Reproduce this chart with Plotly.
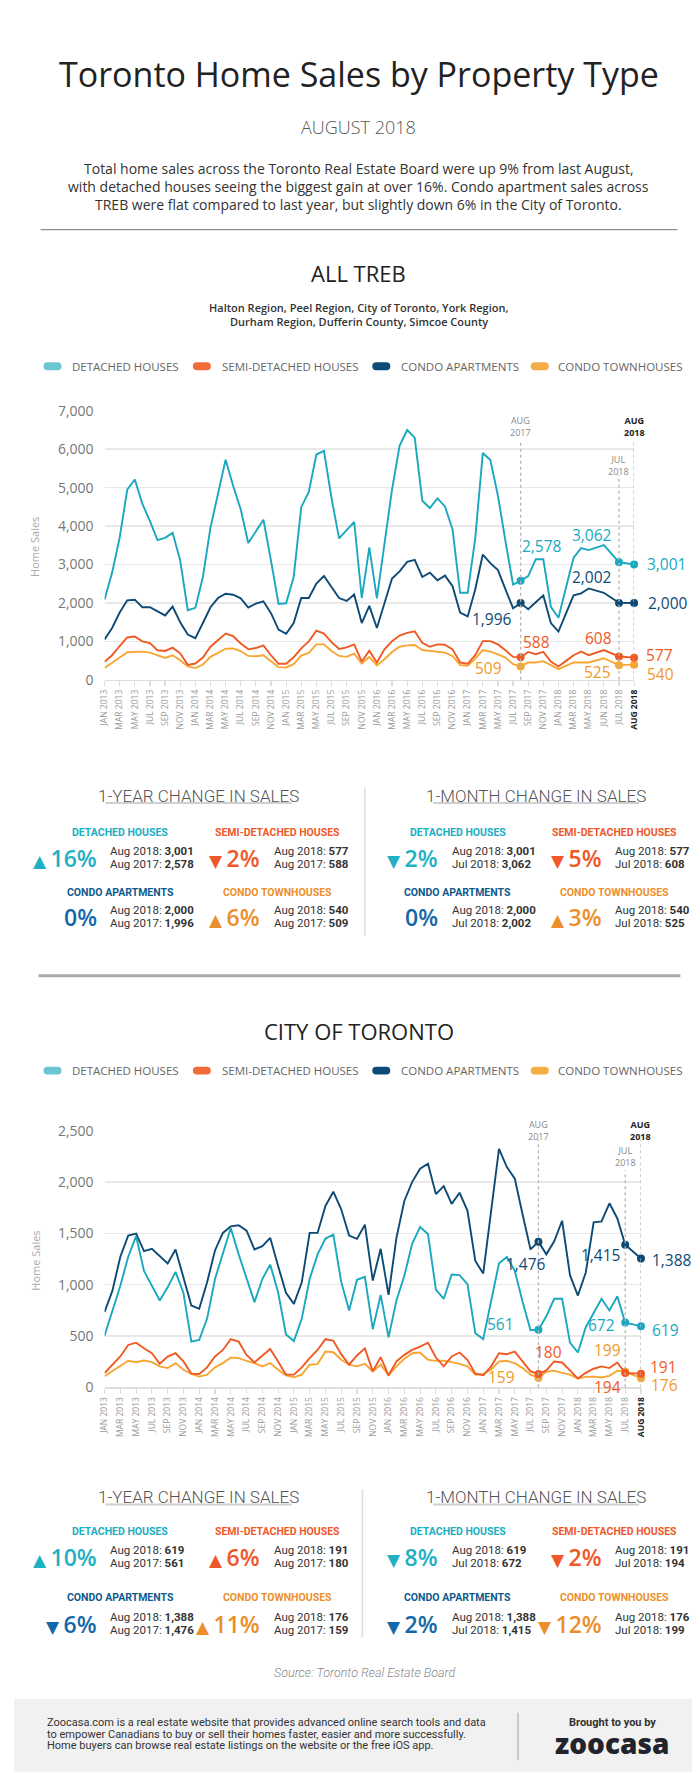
import numpy as np
import pandas as pd
import plotly.graph_objects as go

W, H = 700, 1773
def px(x): return x / W
def py(y): return 1 - y / H

BASE = "Open Sans, Roboto, DejaVu Sans, sans-serif"
NARROW = "Liberation Sans Narrow, Roboto, Open Sans, sans-serif"
ROB = "Roboto, Open Sans, sans-serif"

# ---------------- categories / ticks ----------------
MONTHS = [d.strftime("%b %Y").upper() for d in pd.date_range("2013-01-01", "2018-08-01", freq="MS")]
TREB_TICKS = MONTHS[0:65:2] + ["JUN 2018", "JUL 2018", "AUG 2018"]
CITY_TICKS = MONTHS[0:67:2] + ["AUG 2018"]
HIGHLIGHT = ["AUG 2017", "JUL 2018", "AUG 2018"]
SERIES = ["DETACHED HOUSES", "SEMI-DETACHED HOUSES", "CONDO APARTMENTS", "CONDO TOWNHOUSES"]

# ---------------- ALL TREB series (Jan 2013 - Aug 2018) ----------------
TREB_DETACHED = [2090, 2790, 3700, 4945, 5210, 4577, 4130, 3635, 3695, 3824, 3104, 1812,
                 1872, 2676, 3960, 4816, 5724, 5050, 4430, 3558, 3875, 4166, 3100, 1974,
                 1991, 2676, 4491, 4885, 5861, 5955, 4731, 3678, 3892, 4106, 2128, 3446,
                 2120, 3550, 4950, 6090, 6500, 6300, 4660, 4470, 4720, 4510, 3910, 2265,
                 2265, 3680, 5900, 5720, 4790, 3600, 2480, 2578, 2700, 3137, 3137, 1900,
                 1615, 2400, 3175, 3425, 3375, 3505, 3062, 3001]
TREB_SEMI = [467, 640, 880, 1102, 1128, 1000, 957, 768, 750, 836, 690, 390,
             425, 579, 861, 1024, 1204, 1135, 947, 793, 827, 896, 639, 417,
             417, 588, 820, 1000, 1281, 1204, 981, 802, 844, 921, 476, 759,
             450, 793, 1007, 1152, 1221, 1264, 964, 861, 921, 913, 793, 450,
             417, 640, 1007, 1007, 921, 768, 597, 588, 726, 666, 726, 476,
             348, 493, 640, 734, 640, 776, 608, 577]
TREB_CONDO_APT = [1050, 1350, 1752, 2068, 2085, 1888, 1888, 1786, 1675, 1906, 1495, 1178,
                  1084, 1478, 1888, 2128, 2240, 2214, 2120, 1880, 1983, 2043, 1734, 1307,
                  1196, 1478, 2128, 2128, 2505, 2702, 2420, 2128, 2051, 2222, 1478, 1923,
                  1350, 1990, 2634, 2822, 3070, 3122, 2676, 2788, 2591, 2711, 2437, 1752,
                  1649, 2351, 3259, 3036, 2856, 2351, 1863, 1996, 1837, 2017, 2197, 1478,
                  1255, 1730, 2197, 2248, 2377, 2265, 2002, 2000]
TREB_CONDO_TOWN = [306, 452, 580, 716, 724, 733, 707, 639, 570, 639, 510, 348,
                   306, 399, 597, 700, 810, 818, 750, 622, 613, 639, 476, 330,
                   322, 408, 630, 700, 922, 922, 750, 622, 597, 682, 425, 597,
                   374, 536, 725, 861, 896, 904, 776, 750, 741, 707, 622, 382,
                   365, 553, 776, 733, 664, 579, 408, 348, 452, 452, 485, 390,
                   279, 365, 452, 452, 452, 562, 382, 395]

# ---------------- City of Toronto series ----------------
CITY_DETACHED = [502, 749, 990, 1273, 1473, 1135, 990, 846, 974, 1125, 920, 444,
                 460, 669, 1055, 1312, 1553, 1296, 1055, 830, 1055, 1196, 926, 514,
                 450, 669, 1055, 1296, 1450, 1489, 1029, 749, 1048, 1077, 566, 900,
                 486, 846, 1087, 1402, 1563, 1495, 952, 862, 1100, 1093, 1006, 527,
                 469, 830, 1209, 1270, 1135, 830, 556, 561, 691, 862, 862, 434,
                 338, 585, 730, 862, 748, 887, 630, 595]
CITY_SEMI = [138, 219, 299, 412, 434, 379, 331, 228, 299, 331, 251, 132,
             129, 193, 299, 363, 469, 444, 315, 241, 309, 373, 251, 122,
             122, 193, 283, 363, 469, 453, 322, 219, 309, 379, 154, 293,
             116, 251, 315, 363, 395, 434, 289, 203, 299, 338, 267, 132,
             116, 203, 331, 322, 347, 251, 154, 129, 164, 251, 241, 164,
             84, 140, 180, 203, 186, 241, 138, 132]
CITY_CONDO_APT = [733, 942, 1273, 1479, 1498, 1328, 1350, 1280, 1206, 1344, 1061, 797,
                  765, 1023, 1334, 1505, 1569, 1579, 1527, 1344, 1376, 1457, 1183, 920,
                  813, 1023, 1505, 1505, 1768, 1907, 1736, 1479, 1447, 1585, 1040, 1350,
                  900, 1457, 1817, 2003, 2132, 2180, 1884, 1961, 1788, 1897, 1723, 1232,
                  1109, 1700, 2325, 2148, 2035, 1682, 1344, 1420, 1296, 1424, 1624, 1093,
                  894, 1119, 1608, 1617, 1794, 1646, 1390, 1255]
CITY_CONDO_TOWN = [106, 154, 203, 257, 244, 260, 244, 203, 186, 235, 170, 129,
                   103, 122, 193, 235, 289, 283, 257, 235, 203, 235, 170, 116,
                   96, 122, 219, 225, 347, 341, 267, 219, 203, 228, 154, 219,
                   116, 203, 277, 331, 338, 267, 257, 257, 244, 228, 203, 122,
                   129, 170, 251, 257, 235, 186, 122, 90, 150, 161, 140, 122,
                   85, 100, 103, 95, 110, 161, 150, 88]

# ---------------- change statistics ----------------
TREB_NOW = [3001, 577, 2000, 540]
TREB_YEAR_AGO = [2578, 588, 1996, 509]
TREB_MONTH_AGO = [3062, 608, 2002, 525]
TREB_YEAR_PCT = [16, 2, 0, 6]
TREB_YEAR_DIR = ["up", "down", "flat", "up"]
TREB_MONTH_PCT = [2, 5, 0, 3]
TREB_MONTH_DIR = ["down", "down", "flat", "up"]

CITY_NOW = [619, 191, 1388, 176]
CITY_YEAR_AGO = [561, 180, 1476, 159]
CITY_MONTH_AGO = [672, 194, 1415, 199]
CITY_YEAR_PCT = [10, 6, 6, 11]
CITY_YEAR_DIR = ["up", "up", "down", "up"]
CITY_MONTH_PCT = [8, 2, 2, 12]
CITY_MONTH_DIR = ["down", "down", "down", "down"]

# ---------------- styles ----------------
LINE_COLORS = ["#19A8BF", "#EF5A24", "#0D4A75", "#F8A632"]
LABEL_COLORS = ["#1AA9C0", "#EF5A2A", "#0D4A75", "#EE9A2C"]
PILL_COLORS = ["#6BC6D3", "#F26A3A", "#0D4A75", "#F6AD45"]
HEAD_COLORS = ["#1BAEC3", "#F0582A", "#0F5A8D", "#EC8F2C"]
PCT_COLORS = ["#1FB0C4", "#F0582A", "#1468A8", "#EB8E2C"]
DRAW_ORDER = [3, 1, 2, 0]

fig = go.Figure()
annotations = []
shapes = []

def txt(text, x, y, size, color="#222", family=BASE, xanchor="center", weight=None, yanchor="middle", italic=False, **kw):
    f = dict(family=family, size=size, color=color)
    if weight is not None:
        f["weight"] = weight
    if italic:
        f["style"] = "italic"
    annotations.append(dict(text=text, x=px(x), y=py(y), xref="paper", yref="paper",
                            xanchor=xanchor, yanchor=yanchor, showarrow=False, font=f, **kw))

def hline(x0, x1, y, color, width):
    shapes.append(dict(type="line", xref="paper", yref="paper", x0=px(x0), x1=px(x1),
                       y0=py(y), y1=py(y), line=dict(color=color, width=width)))

def vline(x, y0, y1, color, width):
    shapes.append(dict(type="line", xref="paper", yref="paper", x0=px(x), x1=px(x),
                       y0=py(y0), y1=py(y1), line=dict(color=color, width=width)))

def pill(x0, x1, yc, h, color):
    r = h / 2
    pts = lambda x, y: f"{px(x):.5f},{py(y):.5f}"
    path = (f"M{pts(x0 + r, yc - r)} L{pts(x1 - r, yc - r)} Q{pts(x1, yc - r)} {pts(x1, yc)} "
            f"Q{pts(x1, yc + r)} {pts(x1 - r, yc + r)} L{pts(x0 + r, yc + r)} "
            f"Q{pts(x0, yc + r)} {pts(x0, yc)} Q{pts(x0, yc - r)} {pts(x0 + r, yc - r)} Z")
    shapes.append(dict(type="path", xref="paper", yref="paper", path=path,
                       fillcolor=color, line=dict(width=0)))

def positions(ticks):
    label_months = [MONTHS.index(t) for t in ticks]
    return np.interp(np.arange(len(MONTHS)), label_months, 2 * np.arange(len(ticks)))

# ---------------- header ----------------
txt("Toronto Home Sales by Property Type", 350, 57, 34, "#222", weight=500)
txt("AUGUST 2018", 350, 110, 18, "#555", weight=300)
DESC = ["Total home sales across the Toronto Real Estate Board were up 9% from last August,",
        "with detached houses seeing the biggest gain at over 16%. Condo apartment sales across",
        "TREB were flat compared to last year, but slightly down 6% in the City of Toronto."]
for line, y in zip(DESC, [152, 170.5, 188.5]):
    txt(line, 350, y, 14, "#333")
hline(27, 674, 214, "#8e8e8e", 1.3)

def legend(y):
    pills = [(30, 48.3), (181.7, 200), (364, 382.3), (525, 543.3)]
    text_x = [56.7, 209.3, 390.7, 551]
    for i, name in enumerate(SERIES):
        pill(pills[i][0], pills[i][1], y, 8, PILL_COLORS[i])
        txt(name, text_x[i], y, 11.5, "#666", xanchor="left")

# ---------------- charts ----------------
def chart(xa, ya, ticks, data, x_dom, y_bot, y_top, ymax, ystep, guide_tops, guide_label_y,
          label_texts, label_offsets):
    pos = positions(ticks)
    hi = [MONTHS.index(h) for h in HIGHLIGHT]
    for i in DRAW_ORDER:
        vals = data[i]
        fig.add_trace(go.Scatter(x=pos, y=vals, mode="lines", xaxis=xa, yaxis=ya,
                                 line=dict(color=LINE_COLORS[i], width=1.9),
                                 hoverinfo="skip", showlegend=False, cliponaxis=False))
        fig.add_trace(go.Scatter(x=pos[hi], y=[vals[k] for k in hi], mode="markers",
                                 xaxis=xa, yaxis=ya, marker=dict(color=LINE_COLORS[i], size=8),
                                 hoverinfo="skip", showlegend=False, cliponaxis=False))
    # guide lines
    for j, k in enumerate(hi):
        shapes.append(dict(type="line", xref=xa, yref="paper", x0=pos[k], x1=pos[k],
                           y0=py(y_bot), y1=py(guide_tops[j]),
                           line=dict(color="#b5b5b5", width=1.3, dash="dot")))
        mon, yr = HIGHLIGHT[j].split()
        if j == 2:
            t, col = f"<b>{mon}<br>{yr}</b>", "#222"
        else:
            t, col = f"{mon}<br>{yr}", "#888"
        annotations.append(dict(text=t, x=pos[k], y=py(guide_label_y[j]), xref=xa, yref="paper",
                                showarrow=False, xanchor="center", yanchor="middle",
                                font=dict(family=BASE, size=9, color=col)))
    # value labels
    for i in range(4):
        for j, k in enumerate(hi):
            dx, dy = label_offsets[i][j]
            annotations.append(dict(text=f"{label_texts[i][j]:,}", x=pos[k], y=data[i][k],
                                    xref=xa, yref=ya, xshift=dx, yshift=dy, showarrow=False,
                                    xanchor="center", yanchor="middle",
                                    font=dict(family=BASE, size=15.5, color=LABEL_COLORS[i], weight=500)))
    ticktext = ticks[:-1] + [f"<b><span style='color:#222'>{ticks[-1]}</span></b>"]
    axis_x = dict(domain=[px(x_dom[0]), px(x_dom[1])], range=[0, pos[-1]], anchor=ya,
                  tickmode="array", tickvals=list(2 * np.arange(len(ticks))), ticktext=ticktext,
                  tickangle=-90, tickfont=dict(family=BASE, size=8.5, color="#9a9a9a"),
                  showgrid=False, zeroline=False, showline=True, linecolor="#dedede", linewidth=1.5,
                  ticks="outside", ticklen=5, tickcolor="#dedede", tickwidth=1.2, fixedrange=True)
    axis_y = dict(domain=[py(y_bot), py(y_top)], range=[0, ymax], anchor=xa,
                  tickmode="array", tickvals=list(range(0, ymax + 1, ystep)), tickformat=",",
                  tickfont=dict(family=BASE, size=14, color="#777"), gridcolor="#e8e8e8",
                  gridwidth=1.5, zeroline=False, showline=False, ticks="",
                  ticklabelstandoff=10, fixedrange=True)
    txt("Home Sales", 21, (y_bot + y_top) / 2 + 2, 11, "#aaa", textangle=-90)
    return axis_x, axis_y

# ALL TREB
txt("ALL TREB", 350, 258, 22, "#222", weight=500)
txt("Halton Region, Peel Region, City of Toronto, York Region,", 350, 293, 11, "#333", weight=600)
txt("Durham Region, Dufferin County, Simcoe County", 350, 307, 11, "#333", weight=600)
legend(352)

treb_labels = [[TREB_YEAR_AGO[i], TREB_MONTH_AGO[i], TREB_NOW[i]] for i in range(4)]
treb_offsets = [[(21, 35), (-27, 27), (32, 0)],
                [(16, 15), (-20, 18), (25, 3)],
                [(-29, -16), (-27, 26), (34, 0)],
                [(-32, -2), (-21, -7), (26, -9)]]
xa1, ya1 = chart("x", "y", TREB_TICKS, [TREB_DETACHED, TREB_SEMI, TREB_CONDO_APT, TREB_CONDO_TOWN],
                 (92, 630), 669, 397, 7000, 1000, [427, 462, 427], [413, 452, 413],
                 treb_labels, treb_offsets)

# CITY OF TORONTO
txt("CITY OF TORONTO", 350, 1023.5, 22, "#222", weight=500)
legend(1064)
city_labels = [[CITY_YEAR_AGO[i], CITY_MONTH_AGO[i], CITY_NOW[i]] for i in range(4)]
city_offsets = [[(-38, 6), (-24, -2), (25, -4)],
                [(10, 22), (-18, -14), (23, 7)],
                [(-12, -22), (-25, -10), (31, -1)],
                [(-37, 1), (-18, 22), (24, -7)]]
xa2, ya2 = chart("x2", "y2", CITY_TICKS, [CITY_DETACHED, CITY_SEMI, CITY_CONDO_APT, CITY_CONDO_TOWN],
                 (92, 637), 1384, 1125, 2500, 500, [1134, 1165, 1134], [1125, 1151, 1125],
                 city_labels, city_offsets)

# ---------------- stat panels ----------------
TRI = {"up": "▲", "down": "▼", "flat": ""}
HEAD_X = [108, 268, 451, 610]
DETAIL_X = [96, 262, 443, 609]

def panel(title_y, rows, divider_x, now, year_ago, month_ago, ypct, ydir, mpct, mdir):
    for side, (cx, ul) in enumerate([(187, (93, 282)), (530, (426, 635))]):
        txt("1-YEAR CHANGE IN SALES" if side == 0 else "1-MONTH CHANGE IN SALES",
            cx, title_y, 17, "#555", family=NARROW, weight=300)
        hline(ul[0], ul[1], title_y + 7.5, "#cfcfcf", 2)
    vline(divider_x, title_y - 8, title_y + 142, "#dddddd", 1.5)
    for side in range(2):
        pcts, dirs = (ypct, ydir) if side == 0 else (mpct, mdir)
        ago = year_ago if side == 0 else month_ago
        ago_lbl = "Aug 2017:" if side == 0 else "Jul 2018:"
        for i in range(4):
            col = side * 2 + (i % 2)
            head_y, big_y = rows[i // 2]
            txt(SERIES[i], HEAD_X[col], head_y, 10.5, HEAD_COLORS[i], family=ROB, weight=700)
            tri = TRI[dirs[i]]
            big = (f"<span style='font-size:17px'>{tri} </span>" if tri else "") + f"{pcts[i]}%"
            txt(big, DETAIL_X[col] - 10, big_y, 23, PCT_COLORS[i], xanchor="right", weight=600)
            txt(f"Aug 2018: <b>{now[i]:,}</b>", DETAIL_X[col], big_y - 7, 11.5, "#333",
                family=ROB, xanchor="left")
            txt(f"{ago_lbl} <b>{ago[i]:,}</b>", DETAIL_X[col], big_y + 6, 11.5, "#333",
                family=ROB, xanchor="left")

panel(786, [(823, 849), (884, 909)], 356.5, TREB_NOW, TREB_YEAR_AGO, TREB_MONTH_AGO,
      TREB_YEAR_PCT, TREB_YEAR_DIR, TREB_MONTH_PCT, TREB_MONTH_DIR)
hline(25, 677, 968, "#aaaaaa", 3)
panel(1495, [(1530, 1556), (1597, 1623)], 354, CITY_NOW, CITY_YEAR_AGO, CITY_MONTH_AGO,
      CITY_YEAR_PCT, CITY_YEAR_DIR, CITY_MONTH_PCT, CITY_MONTH_DIR)

txt("Source: Toronto Real Estate Board", 356.5, 1672, 12.5, "#888", family=ROB, italic=True, weight=300)

# ---------------- footer ----------------
shapes.append(dict(type="rect", xref="paper", yref="paper", x0=0, x1=1, y0=0, y1=py(1699),
                   fillcolor="#f1f1f1", line=dict(width=0), layer="below"))
FOOT = ["Zoocasa.com is a real estate website that provides advanced online search tools and data",
        "to empower Canadians to buy or sell their homes faster, easier and more successfully.",
        "Home buyers can browse real estate listings on the website or the free iOS app."]
for line, y in zip(FOOT, [1723.3, 1735, 1746.7]):
    txt(line, 32, y, 11, "#333", family=ROB, xanchor="left")
vline(512, 1713, 1761, "#bbbbbb", 1.5)
txt("Brought to you by", 607.6, 1723.3, 11, "#333", family=ROB, weight=700)
txt("zoocasa", 607.6, 1743.5, 28, "#23232b", family=BASE, weight=800)

fig.update_layout(width=W, height=H, autosize=False, margin=dict(l=0, r=0, t=0, b=0, pad=0),
                  paper_bgcolor="white", plot_bgcolor="white", showlegend=False,
                  xaxis=xa1, yaxis=ya1, xaxis2=xa2, yaxis2=ya2,
                  annotations=annotations, shapes=shapes, hovermode=False)
fig.write_html("out.html", config={"displayModeBar": False, "staticPlot": True})
